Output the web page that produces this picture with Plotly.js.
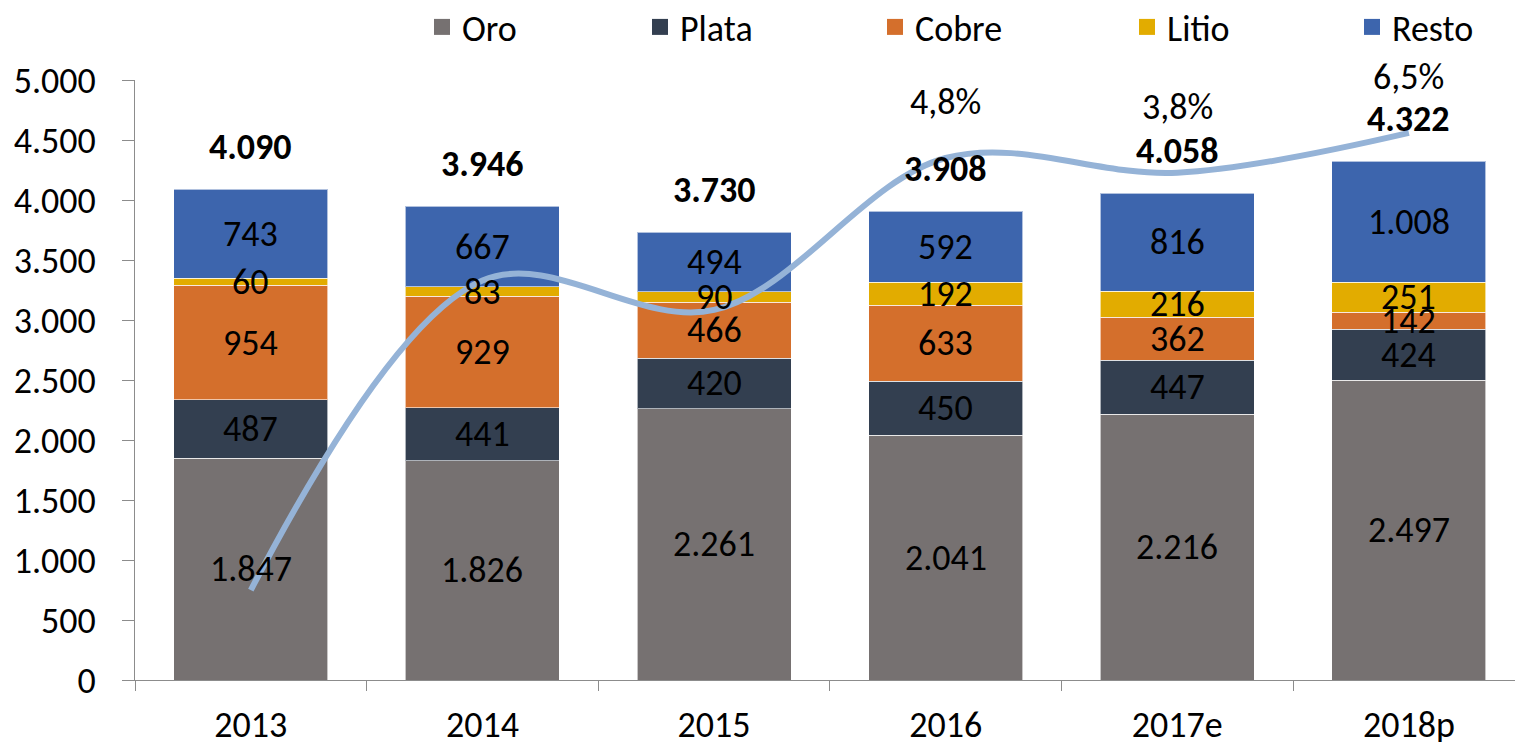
<!DOCTYPE html>
<html>
<head>
<meta charset="utf-8">
<script src="https://cdn.plot.ly/plotly-3.0.1.min.js"></script>
<style>
html,body{margin:0;padding:0;background:#fff;}
#chart{width:1515px;height:742px;}
</style>
</head>
<body>
<div id="chart"></div>
<script>
// ---- data ----
const years = ['2013', '2014', '2015', '2016', '2017e', '2018p'];
const oro = [1847, 1826, 2261, 2041, 2216, 2497];
const plata = [487, 441, 420, 450, 447, 424];
const cobre = [954, 929, 466, 633, 362, 142];
const litio = [60, 83, 90, 192, 216, 251];
const resto = [743, 667, 494, 592, 816, 1008];
const totals = [4090, 3946, 3730, 3908, 4058, 4322];
const growth = [-24.5, -3.5, -5.5, 4.8, 3.8, 6.5];
const growthLabels = ['', '', '', '4,8%', '3,8%', '6,5%'];
const seriesNames = ['Oro', 'Plata', 'Cobre', 'Litio', 'Resto'];

// ---- style ----
const FONT = 'Carlito, Lato, sans-serif';
const FS = 36;
const colors = ['#767171', '#333F50', '#D46F2C', '#E2AC00', '#3D65AD'];
const seriesData = [oro, plata, cobre, litio, resto];
const legendCenters = [442, 660, 895, 1147, 1372];
const pctShift = [0, 0, 0, 56, 66, 56];

function fmt(n) { return String(n).replace(/\B(?=(\d{3})+(?!\d))/g, '.'); }

const traces = [];
seriesData.forEach((vals, i) => {
  traces.push({
    type: 'bar', x: years, y: vals, name: seriesNames[i], showlegend: false,
    marker: {color: colors[i], line: {color: 'rgba(255,255,255,0.6)', width: 1}},
    hoverinfo: 'skip'
  });
});
// line on secondary axis
traces.push({
  type: 'scatter', mode: 'lines', x: years, y: growth, yaxis: 'y2',
  line: {color: '#95B3D7', width: 6, shape: 'spline', smoothing: 1},
  showlegend: false, hoverinfo: 'skip'
});
// legend proxies
seriesNames.forEach((n, i) => {
  traces.push({
    type: 'scatter', mode: 'markers', x: [null], y: [null], name: n,
    marker: {symbol: 'square', size: 20, color: colors[i]},
    legend: i === 0 ? 'legend' : 'legend' + (i + 1), showlegend: true
  });
});

const annotations = [];
// segment labels centred on each stacked segment (computed from the data)
const base = years.map(() => 0);
seriesData.forEach((vals) => {
  vals.forEach((v, j) => {
    annotations.push({
      x: j, y: base[j] + v / 2, xref: 'x', yref: 'y', yanchor: 'middle', yshift: 0,
      text: fmt(v), showarrow: false,
      font: {family: FONT, size: FS, color: '#000'}
    });
    base[j] += v;
  });
});
years.forEach((y, i) => {
  annotations.push({
    x: i, y: totals[i], xref: 'x', yref: 'y', yanchor: 'bottom', yshift: 18,
    text: '<b>' + fmt(totals[i]) + '</b>', showarrow: false,
    font: {family: FONT, size: FS, color: '#000'}
  });
  if (growthLabels[i]) {
    annotations.push({
      x: i, y: growth[i], xref: 'x', yref: 'y2', yanchor: 'middle', yshift: pctShift[i],
      text: growthLabels[i], showarrow: false,
      font: {family: FONT, size: FS, color: '#000'}
    });
  }
});

const layout = {
  width: 1515, height: 742,
  margin: {l: 135, r: 0, t: 80, b: 62},
  paper_bgcolor: '#fff', plot_bgcolor: '#fff',
  barmode: 'stack', bargap: 0.335,
  separators: ',.',
  font: {family: FONT, size: FS, color: '#000'},
  xaxis: {
    type: 'category', range: [-0.5, 5.458],
    showline: true, linecolor: '#8c8c8c', linewidth: 1,
    ticks: 'outside', tickson: 'boundaries', ticklen: 10, tickcolor: '#8c8c8c',
    ticklabelstandoff: 13,
    showgrid: false, zeroline: false,
    tickfont: {family: FONT, size: FS, color: '#000'}
  },
  yaxis: {
    range: [0, 5000], dtick: 500, tick0: 0, tickformat: ',.0f',
    showline: true, linecolor: '#8c8c8c', linewidth: 1,
    ticks: 'outside', ticklen: 12, tickcolor: '#8c8c8c',
    ticklabelstandoff: 19,
    showgrid: false, zeroline: false,
    tickfont: {family: FONT, size: FS, color: '#000'}
  },
  yaxis2: {
    overlaying: 'y', range: [-30.59, 10.09], visible: false, showgrid: false, zeroline: false
  },
  annotations: annotations,
  showlegend: true
};
legendCenters.forEach((c, i) => {
  const key = i === 0 ? 'legend' : 'legend' + (i + 1);
  layout[key] = {
    xref: 'container', yref: 'container',
    x: (c - 20) / 1515, xanchor: 'left',
    y: 1 - 27 / 742, yanchor: 'middle',
    orientation: 'h', bgcolor: 'rgba(0,0,0,0)',
    font: {family: FONT, size: FS, color: '#000'},
    itemwidth: 30
  };
});

Plotly.newPlot('chart', traces, layout, {displayModeBar: false, staticPlot: true});
</script>
</body>
</html>
